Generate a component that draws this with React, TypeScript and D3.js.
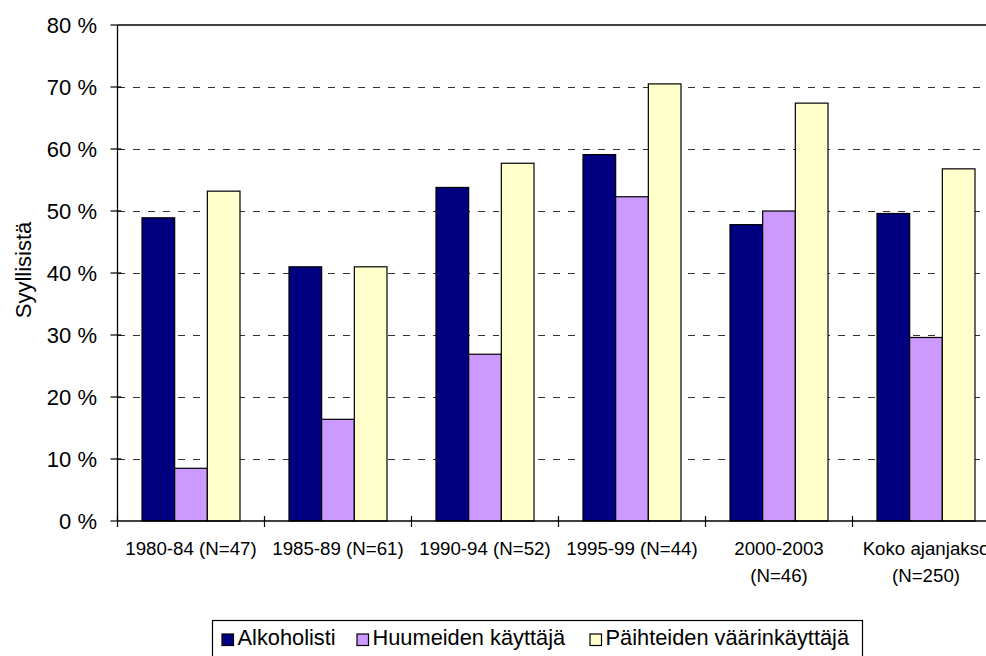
import React from "react";
import * as d3 from "d3";

const categories: string[][] = [
  ["1980-84 (N=47)"],
  ["1985-89 (N=61)"],
  ["1990-94 (N=52)"],
  ["1995-99 (N=44)"],
  ["2000-2003", "(N=46)"],
  ["Koko ajanjakso", "(N=250)"],
];
const seriesNames = ["Alkoholisti", "Huumeiden käyttäjä", "Päihteiden väärinkäyttäjä"];
const alkoholisti = [48.9, 41.0, 53.8, 59.1, 47.8, 49.6];
const huumeiden = [8.5, 16.4, 26.9, 52.3, 50.0, 29.6];
const paihteiden = [53.2, 41.0, 57.7, 70.5, 67.4, 56.8];
const yTicks = [0, 10, 20, 30, 40, 50, 60, 70, 80];
const yTitle = "Syyllisistä";

const colors = ["#000080", "#CC99FF", "#FFFFCC"];
const FONT = "'Liberation Sans', Arial, sans-serif";

export default function App() {
  const W = 986, H = 656;
  const left = 117.5, right = 999.5, top = 25, bottom = 521;
  const values = [alkoholisti, huumeiden, paihteiden];

  const x = d3.scaleBand<number>().domain(categories.map((_, i) => i)).range([left, right]).padding(0);
  const x1 = d3.scaleBand<number>().domain([0, 1, 2]).range([0, x.bandwidth()]).paddingInner(0).paddingOuter(0.75);
  const y = d3.scaleLinear().domain([0, 80]).range([bottom, top]);

  const legendMarkerX = [222, 357, 590];
  const boundaries = categories.map((_, i) => x(i)!).concat([right]);

  return (
    <svg width={W} height={H} style={{ position: "absolute", left: 0, top: 0, background: "#fff" }} fontFamily={FONT}>
      <rect x={0} y={0} width={W} height={H} fill="#fff" />
      {/* gridlines */}
      {yTicks.filter((t) => t > 0 && t < 80).map((t) => (
        <line key={"g" + t} x1={left} x2={W} y1={y(t)} y2={y(t)} stroke="#333" strokeWidth={1} strokeDasharray="7,8" shapeRendering="crispEdges" />
      ))}
      {/* top border */}
      <line x1={left} x2={W} y1={y(80)} y2={y(80)} stroke="#000" strokeWidth={1.3} />
      {/* bars */}
      {values.map((vals, s) =>
        vals.map((v, i) => (
          <rect
            key={s + "-" + i}
            x={x(i)! + x1(s)!}
            y={y(v)}
            width={x1.bandwidth()}
            height={y(0) - y(v)}
            fill={colors[s]}
            stroke="#000"
            strokeWidth={1.2}
          />
        ))
      )}
      {/* axes */}
      <line x1={left} x2={left} y1={top} y2={bottom} stroke="#000" strokeWidth={1.3} />
      <line x1={left} x2={W} y1={bottom} y2={bottom} stroke="#000" strokeWidth={1.3} />
      {yTicks.map((t) => (
        <g key={"yt" + t}>
          <line x1={left - 7} x2={left + (t > 0 && t < 80 ? 4 : 0)} y1={y(t)} y2={y(t)} stroke="#000" strokeWidth={1.2} />
          <text x={97} y={y(t)} dy="0.358em" textAnchor="end" fontSize={22} fill="#000">
            {`${t} %`}
          </text>
        </g>
      ))}
      {boundaries.map((bx, i) => (
        <line key={"xt" + i} x1={bx} x2={bx} y1={bottom - 5} y2={bottom + 6} stroke="#000" strokeWidth={1.2} />
      ))}
      {categories.map((lines, i) => (
        <text key={"xl" + i} textAnchor="middle" fontSize={18.7} fill="#000">
          {lines.map((ln, j) => (
            <tspan key={j} x={x(i)! + x.bandwidth() / 2} y={555 + j * 26.7}>
              {ln}
            </tspan>
          ))}
        </text>
      ))}
      {/* y title */}
      <text transform={`translate(31,270) rotate(-90)`} textAnchor="middle" fontSize={22} fill="#000">
        {yTitle}
      </text>
      {/* legend */}
      <rect x={212.5} y={620.5} width={650} height={60} fill="#fff" stroke="#000" strokeWidth={1.2} />
      {seriesNames.map((name, s) => (
        <g key={"lg" + s}>
          <rect x={legendMarkerX[s]} y={634} width={11.5} height={11.5} fill={colors[s]} stroke="#000" strokeWidth={1.2} />
          <text x={legendMarkerX[s] + 15.5} y={645} fontSize={21.8} fill="#000">
            {name}
          </text>
        </g>
      ))}
    </svg>
  );
}
